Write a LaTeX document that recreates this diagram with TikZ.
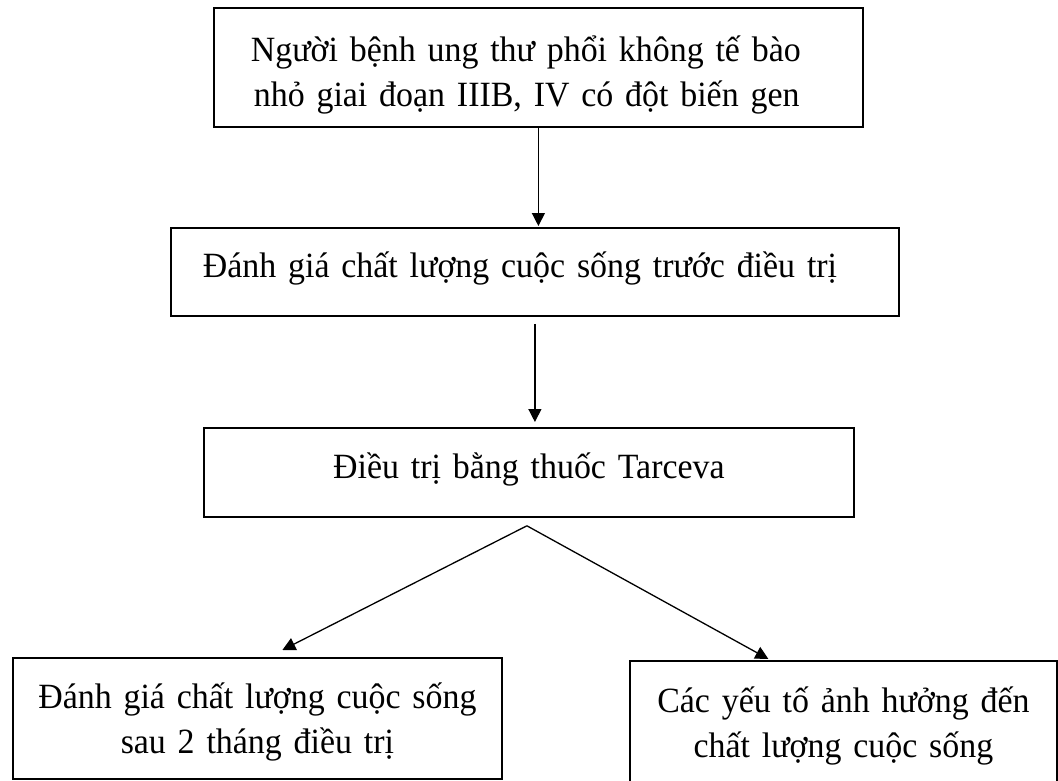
\documentclass[tikz,border=0pt]{standalone}
\usepackage{fontspec}
\setmainfont{Liberation Serif}[FakeStretch=0.955]
\usetikzlibrary{arrows.meta,positioning,calc}

\tikzset{
  box/.style={draw, line width=1.8pt, anchor=north west, inner ysep=0pt,
    font=\fontsize{35.5}{45}\selectfont},
  arr/.style={line width=1.3pt, -{Triangle[width=13pt,length=13pt]}}
}

\begin{document}
\begin{tikzpicture}[x=1pt, y=-1pt]
        \useasboundingbox (0,0) rectangle (1058,780);

        % Patients
        \node [box, inner xsep=37pt, text width=575pt, align=left, text height=54pt, text depth=65pt] (patient) at (213,7)
            {Người bệnh ung thư phổi không tế bào\\\hspace*{3pt}nhỏ giai đoạn IIIB, IV có đột biến gen};

        % Before treatment
        \node [box, inner xsep=32pt, text width=664pt, align=left, text height=50pt, text depth=38pt] (before) at (170,227)
            {Đánh giá chất lượng cuộc sống trước điều trị};

        % Treatment
        \node [box, inner xsep=0pt, text width=650pt, align=center, text height=51pt, text depth=38pt] (tarceva) at (203,427)
            {Điều trị bằng thuốc Tarceva};

        % Outcomes
        \node [box, inner xsep=0pt, text width=489pt, align=center, text height=51pt, text depth=70pt] (after) at (12,657)
            {Đánh giá chất lượng cuộc sống\\sau 2 tháng điều trị};
        \node [box, inner xsep=0pt, text width=427pt, align=center, text height=52pt, text depth=78pt] (factors) at (629,660)
            {Các yếu tố ảnh hưởng đến\\chất lượng cuộc sống};

        \draw [arr, shorten >=1pt] (patient.south) -- (patient.south |- before.north);
        \draw [arr] ([yshift=-7pt]before.south) -- ([yshift=5pt]before.south |- tarceva.north);

        \coordinate (fork) at ([xshift=-2pt,yshift=-8pt]tarceva.south);
        \draw [arr] (fork) -- ([xshift=25pt,yshift=7pt]after.north);
        \draw [arr] (fork) -- ([xshift=-75pt,yshift=1pt]factors.north);
    \end{tikzpicture}
\end{document}
